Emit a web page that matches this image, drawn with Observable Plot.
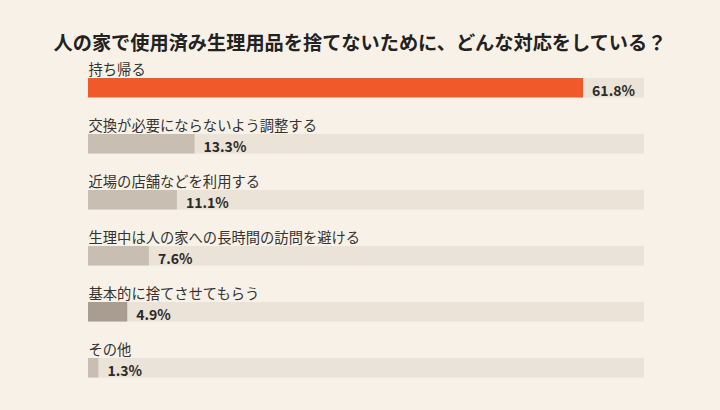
<!DOCTYPE html>
<html>
<head>
<meta charset="utf-8">
<script src="https://cdn.jsdelivr.net/npm/d3@7"></script>
<script src="https://cdn.jsdelivr.net/npm/@observablehq/plot@0.6"></script>
<style>
  html, body { margin: 0; padding: 0; background: #f7f1e8; }
  body { width: 720px; height: 410px; overflow: hidden; font-family: "Noto Sans CJK JP", "Noto Sans", sans-serif; }
  #title { box-sizing: content-box; height: 30px; padding-top: 30px; line-height: 24px; font-size: 19.2px; font-weight: 700; color: #222; text-align: center; }
</style>
</head>
<body>
<div id="title">人の家で使用済み生理用品を捨てないために、どんな対応をしている？</div>
<div id="chart"></div>
<script>
const categories = [
  "持ち帰る",
  "交換が必要にならないよう調整する",
  "近場の店舗などを利用する",
  "生理中は人の家への長時間の訪問を避ける",
  "基本的に捨てさせてもらう",
  "その他"
];
const values = [61.8, 13.3, 11.1, 7.6, 4.9, 1.3];
const barColors = ["#f05a2b", "#c8beb2", "#c8beb2", "#c8beb2", "#a89d90", "#c8beb2"];
const trackMax = 69.4;

const data = categories.map((c, i) => ({cat: c, value: values[i], color: barColors[i]}));

const chart = Plot.plot({
  width: 720,
  height: 350,
  marginLeft: 88,
  marginRight: 76,
  marginTop: 0,
  marginBottom: 0,
  x: {domain: [0, trackMax], axis: null},
  y: {domain: categories, range: [18, 354], padding: 0, axis: null},
  style: {background: "transparent", fontFamily: "'Noto Sans CJK JP', sans-serif", overflow: "visible"},
  marks: [
    Plot.barX(data, {x: () => trackMax, y: "cat", fill: "#ebe3d7", insetBottom: 36.5}),
    Plot.barX(data, {x: "value", y: "cat", fill: "color", insetBottom: 36.5}),
    Plot.text(data, {x: 0, y: "cat", text: "cat", textAnchor: "start", dy: -36, fontSize: 14.3, fill: "#333"}),
    Plot.text(data, {x: "value", y: "cat", text: d => d.value.toFixed(1) + "%", textAnchor: "start", dx: 8.5, dy: -15, fontSize: 14, fontWeight: 700, fill: "#2a2a2a"})
  ]
});
document.getElementById("chart").appendChild(chart);
</script>
</body>
</html>
